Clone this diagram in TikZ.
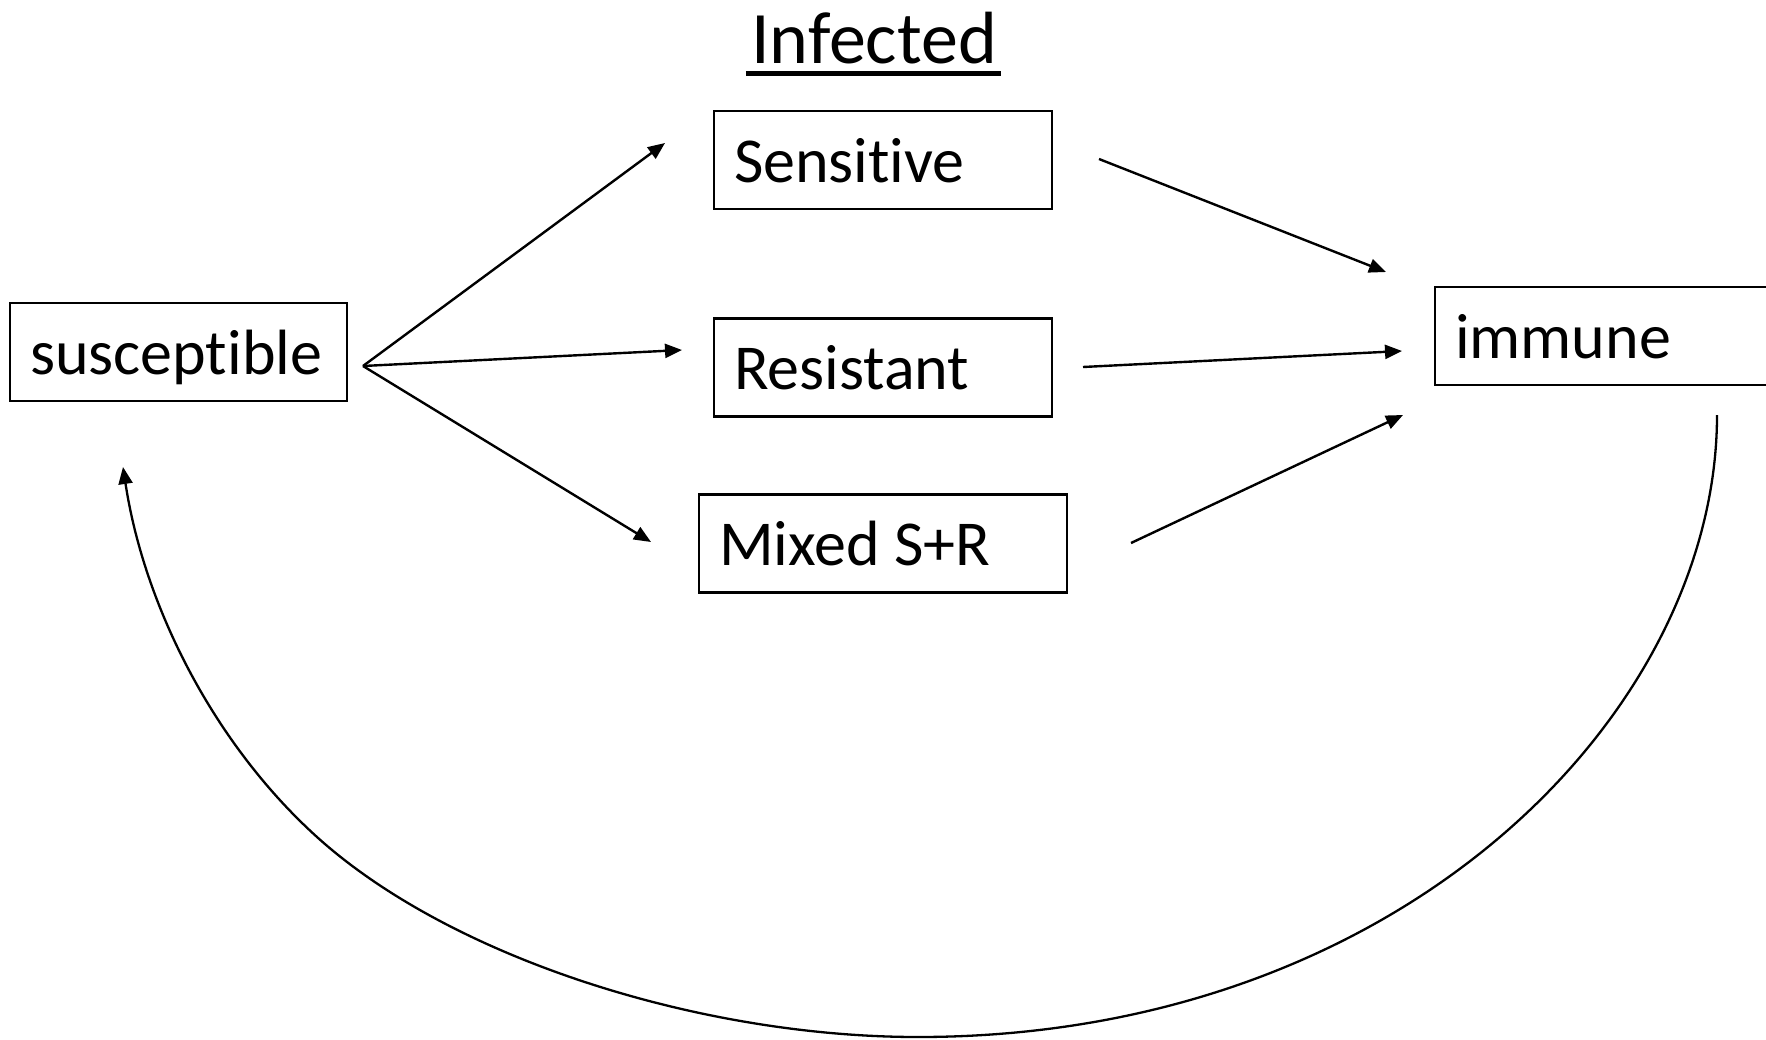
\documentclass[tikz,border=0pt]{standalone}
\usepackage{fontspec}
\setmainfont{Carlito}[Ligatures=NoCommon]
\usetikzlibrary{arrows.meta,calc}
\begin{document}
\begin{tikzpicture}[x=1pt,y=-1pt,
  box/.style={draw, line width=2.5pt, minimum height=98pt, inner xsep=20pt, inner ysep=0pt,
    align=flush left, text height=44pt, text depth=0pt, font=\fontsize{64}{77}\selectfont},
  arr/.style={line width=2.4pt, -{Triangle[length=17pt,width=14pt]}},
  backarc/.style={line width=2.3pt, -{Triangle[length=17pt,width=14pt]}},
  titletext/.style={font=\fontsize{74}{88}\selectfont, inner sep=0pt, anchor=base}]
\useasboundingbox (0,0) rectangle (1766,1039);

% title
\node[titletext] (title) at (874,63) {Infected};
\draw[line width=4.5pt] ($(title.base west)+(-5,10.5)$) -- ($(title.base east)+(4,10.5)$);

% boxes
\node[box, text width=298pt] (sens) at (883,160) {Sensitive};
\node[box, text width=298pt] (res)  at (883,367.5) {Resistant};
\node[box, text width=328pt] (mix)  at (883,543.5) {Mixed S+R};
\node[box, text width=297pt] (susc) at (178.5,352) {susceptible};
\node[box, text width=298pt] (imm)  at (1604,336) {immune};

% connector end points
\coordinate (branch) at (363,366);
\coordinate (sensin) at (665,143);
\coordinate (resin)  at (682,350);
\coordinate (mixin)  at (651,542);
\coordinate (sensout) at (1099,159);
\coordinate (resout)  at (1083,367);
\coordinate (mixout)  at (1131,543);
\coordinate (imsens) at (1386,272);
\coordinate (imres)  at (1402,351);
\coordinate (immix)  at (1403,415);
\coordinate (arcstart) at (1717,415);
\coordinate (arcbottom) at (918,1037);
\coordinate (arcmid) at (317,837);
\coordinate (arcend) at (123,467);

\draw[arr] (branch) -- (sensin);
\draw[arr] (branch) -- (resin);
\draw[arr] (branch) -- (mixin);
\draw[arr] (sensout) -- (imsens);
\draw[arr] (resout) -- (imres);
\draw[arr] (mixout) -- (immix);

% return arc from immune to susceptible
\draw[backarc] (arcstart)
  .. controls (1717,713) and (1402,1037) .. (arcbottom)
  .. controls (700,1037) and (451,958) .. (arcmid)
  .. controls (213,743) and (144,605) .. (arcend);
\end{tikzpicture}
\end{document}
